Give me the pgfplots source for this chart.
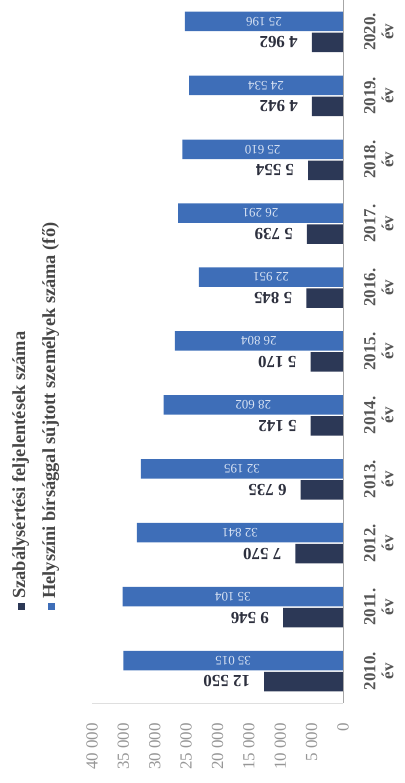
\documentclass[border=0pt]{standalone}
\usepackage{fontspec}
\setmainfont{Liberation Serif}
\usepackage{pgfplots}
\pgfplotsset{compat=1.18}
\usepackage{pgfplotstable}
\definecolor{barblue}{RGB}{62,110,184}
\definecolor{bardark}{RGB}{44,56,86}
\definecolor{ticklab}{RGB}{150,150,150}
\definecolor{catlab}{RGB}{85,85,85}
\definecolor{leglab}{RGB}{70,70,70}
\definecolor{bluelab}{RGB}{215,226,243}
\definecolor{darklab}{RGB}{45,48,62}

\pgfplotstableread{
idx year s h
0 2010 12550 35015
1 2011 9546 35104
2 2012 7570 32841
3 2013 6735 32195
4 2014 5142 28602
5 2015 5170 26804
6 2016 5845 22951
7 2017 5739 26291
8 2018 5554 25610
9 2019 4942 24534
10 2020 4962 25196
}\data

\begin{document}
\begin{tikzpicture}
\useasboundingbox (0,0) rectangle (405bp,783bp);
\begin{axis}[
  at={(92bp,80bp)}, anchor=south west,
  scale only axis, width=251bp, height=703bp,
  clip=false,
  xbar, bar width=19.5bp,
  x dir=reverse,
  xmin=0, xmax=40000, ymin=-0.5, ymax=10.5,
  xtick={0,5000,...,40000},
  ytick={0,...,10},
  yticklabels={{2010.\\év},{2011.\\év},{2012.\\év},{2013.\\év},{2014.\\év},{2015.\\év},{2016.\\év},{2017.\\év},{2018.\\év},{2019.\\év},{2020.\\év}},
  yticklabel pos=right,
  /pgf/number format/.cd, 1000 sep={\ }, assume math mode=true, /pgfplots/.cd,
  scaled x ticks=false,
  major tick length=0pt,
  axis line style={draw=none},
  xticklabel style={rotate=90, anchor=east, inner sep=0pt, font=\fontsize{17}{17}\selectfont, text=ticklab},
  xticklabel shift=20bp,
  yticklabel style={rotate=90, anchor=north, align=center, inner sep=0pt, font=\fontsize{17}{18}\selectfont\bfseries, text=catlab},
  yticklabel shift=21bp,
  extra x ticks={0}, extra x tick labels={},
  extra x tick style={grid=major, major grid style={draw=gray!70, line width=0.8pt}},
  extra y ticks={-0.5}, extra y tick labels={},
  extra y tick style={grid=major, major grid style={draw=gray!25, line width=0.6pt}},
]
\addplot[fill=bardark, draw=none, bar shift=-10.5bp,
  nodes near coords, nodes near coords align={anchor=west},
  every node near coord/.append style={rotate=180, anchor=west, inner xsep=14bp,
    font=\fontsize{17}{17}\selectfont\bfseries, text=darklab}]
  table[x=s, y=idx]{\data};
\addplot[fill=barblue, draw=none, bar shift=10.5bp]
  table[x=h, y=idx]{\data};
\addplot[forget plot, draw=none, fill=none, bar shift=10.5bp, point meta=explicit,
  nodes near coords, nodes near coords align={anchor=center},
  every node near coord/.append style={rotate=180, anchor=center,
    font=\fontsize{13}{13}\selectfont, text=bluelab}]
  table[x expr=\thisrow{h}/2, y=idx, meta=h]{\data};
\node[rotate=90, anchor=north west, inner sep=0pt, font=\fontsize{18.5}{18.5}\selectfont\bfseries, text=leglab]
  at (axis description cs:-0.3187,0.1323)
  {\textcolor{bardark}{\rule{7bp}{7bp}}\hspace{4bp}Szabálysértési feljelentések száma};
\node[rotate=90, anchor=north west, inner sep=0pt, font=\fontsize{18.5}{18.5}\selectfont\bfseries, text=leglab]
  at (axis description cs:-0.1992,0.1323)
  {\textcolor{barblue}{\rule{7bp}{7bp}}\hspace{4bp}Helyszíni bírsággal sújtott személyek száma (fő)};
\end{axis}
\end{tikzpicture}
\end{document}
